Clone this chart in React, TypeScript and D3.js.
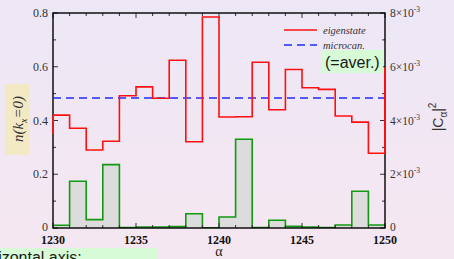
import * as d3 from 'd3'

// eigenstate occupation per bin, alpha = 1229 .. 1250 (first and last bins fall outside the frame)
const redStart = 1229
const redValues = [0.35, 0.42, 0.371, 0.29, 0.323, 0.492, 0.525, 0.483, 0.624, 0.321, 0.785, 0.413, 0.414, 0.617, 0.44, 0.59, 0.522, 0.516, 0.417, 0.394, 0.278, 0.595]
// |C_alpha|^2 in units of 1e-3, alpha = 1230 .. 1249
const greenStart = 1230
const greenValues = [0.1, 1.74, 0.31, 2.36, 0.02, 0.04, 0.04, 0.05, 0.53, 0.01, 0.41, 3.3, 0.02, 0.29, 0.06, 0.04, 0.02, 0.11, 1.37, 0.11]
const microcan = 0.484

const xTicks = [1230, 1235, 1240, 1245, 1250]
const leftTicks = [0, 0.2, 0.4, 0.6, 0.8]
const leftTickLabels = ['0', '0.2', '0.4', '0.6', '0.8']
const rightTicks = [0, 2, 4, 6, 8]

const W = 454
const H = 259
const x0 = 53, x1 = 385, yTop = 13, yBot = 228

const serif = '"Liberation Serif", "DejaVu Serif", serif'
const sans = '"Liberation Sans", Arial, sans-serif'

type Pt = { a: number; v: number }

function steps(start: number, vals: number[]): Pt[] {
  const pts = vals.map((v, i) => ({ a: start + i, v }))
  pts.push({ a: start + vals.length, v: vals[vals.length - 1] })
  return pts
}

export default function App() {
  const x = d3.scaleLinear().domain([1230, 1250]).range([x0, x1])
  const yL = d3.scaleLinear().domain([0, 0.8]).range([yBot, yTop])
  const yR = d3.scaleLinear().domain([0, 8]).range([yBot, yTop])

  const redPts = steps(redStart, redValues)
  const greenPts = steps(greenStart, greenValues)

  const redLine = d3.line<Pt>().x(d => x(d.a)).y(d => yL(d.v)).curve(d3.curveStepAfter)
  const greenLine = d3.line<Pt>().x(d => x(d.a)).y(d => yR(d.v)).curve(d3.curveStepAfter)
  const greenArea = d3.area<Pt>().x(d => x(d.a)).y0(yR(0)).y1(d => yR(d.v)).curve(d3.curveStepAfter)

  const minorX = d3.range(1230, 1251)
  const minorL = d3.range(0, 0.81, 0.1)

  return (
    <svg width={W} height={H} style={{ position: 'absolute', left: 0, top: 0 }}>
      <defs>
        <linearGradient id="bg" x1="0" y1="0" x2="0" y2="1">
          <stop offset="0%" stopColor="#ede7f6" />
          <stop offset="100%" stopColor="#f5e7f1" />
        </linearGradient>
        <clipPath id="plot">
          <rect x={x0} y={yTop} width={x1 - x0} height={yBot - yTop} />
        </clipPath>
      </defs>
      <rect width={W} height={H} fill="url(#bg)" />

      {/* green bars with gray fill */}
      <g clipPath="url(#plot)">
        <path d={greenArea(greenPts) ?? ''} fill="#dcdcdc" />
        <path d={greenLine(greenPts) ?? ''} fill="none" stroke="#119911" strokeWidth={1.6} />
      </g>

      {/* ticks */}
      <g stroke="#333" strokeWidth={1}>
        {minorX.map(a => {
          const len = a % 5 === 0 ? 5 : 3
          return (
            <g key={a}>
              <line x1={x(a)} x2={x(a)} y1={yBot} y2={yBot - len} />
              <line x1={x(a)} x2={x(a)} y1={yTop} y2={yTop + len} />
            </g>
          )
        })}
        {minorL.map((v, i) => {
          const len = i % 2 === 0 ? 5 : 3
          return (
            <g key={i}>
              <line x1={x0} x2={x0 + len} y1={yL(v)} y2={yL(v)} />
              <line x1={x1} x2={x1 - len} y1={yL(v)} y2={yL(v)} />
            </g>
          )
        })}
      </g>

      {/* frame */}
      <rect x={x0} y={yTop} width={x1 - x0} height={yBot - yTop} fill="none" stroke="#000" strokeWidth={1.4} />

      {/* red + blue on top of frame */}
      <path d={`M${x0},${yL(microcan)}H${x1}`} stroke="#1f2bff" strokeWidth={1.6} strokeDasharray="8,5" fill="none" />
      <g clipPath="url(#plot)">
        <path d={redLine(redPts) ?? ''} fill="none" stroke="#ff1010" strokeWidth={1.6} />
      </g>
      {/* edge segments of the red curve running along the frame */}
      <line x1={x0} x2={x0} y1={yL(redValues[0])} y2={yL(redValues[1])} stroke="#ff1010" strokeWidth={1.6} />
      <line x1={x1} x2={x1} y1={yL(redValues[redValues.length - 2])} y2={yL(redValues[redValues.length - 1])} stroke="#ff1010" strokeWidth={1.6} />

      {/* left tick labels */}
      {leftTicks.map((v, i) => (
        <text key={v} x={48} y={yL(v) + (v === 0 ? 2.5 : 4)} textAnchor="end" fontFamily={serif} fontSize={12} fill="#333">
          {leftTickLabels[i]}
        </text>
      ))}
      {/* right tick labels */}
      {rightTicks.map(v => (
        <text key={v} x={390} y={yR(v) + (v === 0 ? 2.5 : 4)} fontFamily={serif} fontSize={11.5} fill="#333">
          {v === 0 ? '0' : (
            <>
              {`${v}×10`}
              <tspan dy={-5} fontSize={7.5}>-3</tspan>
            </>
          )}
        </text>
      ))}
      {/* bottom tick labels */}
      {xTicks.map(a => (
        <text key={a} x={x(a)} y={244} textAnchor="middle" fontFamily={serif} fontSize={12} fontWeight="bold" fill="#111">
          {a}
        </text>
      ))}
      <text x={219} y={256} textAnchor="middle" fontFamily={serif} fontSize={14} fill="#222">α</text>

      {/* left axis title */}
      <rect x={5} y={84} width={24} height={71} fill="#f3e9c4" />
      <text transform="translate(23,119) rotate(-90)" textAnchor="middle" fontFamily={serif} fontSize={15} fontStyle="italic" fill="#333">
        n(k<tspan dy={3.5} fontSize={10}>x</tspan><tspan dy={-3.5}>=0)</tspan>
      </text>

      {/* right axis title */}
      <text transform="translate(443,117) rotate(-90)" textAnchor="middle" fontFamily={sans} fontSize={14} fill="#333">
        |C<tspan dy={4} fontSize={10}>α</tspan><tspan dy={-4}>|</tspan><tspan dy={-7} fontSize={10}>2</tspan>
      </text>

      {/* legend */}
      <line x1={284} x2={317} y1={30} y2={30} stroke="#ff1010" strokeWidth={1.6} />
      <text x={323} y={33.5} fontFamily={serif} fontSize={10.5} fontStyle="italic" fill="#333">eigenstate</text>
      <line x1={284} x2={317} y1={45} y2={45} stroke="#1f2bff" strokeWidth={1.6} strokeDasharray="8,5" />
      <text x={323} y={48.5} fontFamily={serif} fontSize={10.5} fontStyle="italic" fill="#333">microcan.</text>
      <rect x={322} y={50} width={61} height={23} fill="#d6fbd6" />
      <text x={325} y={68} fontFamily={sans} fontSize={16} fill="#1a1a1a">(=aver.)</text>

      {/* bottom-left note, cut off by the window */}
      <rect x={0} y={248} width={158} height={11} fill="#d6fbd6" />
      <text x={-25} y={263} fontFamily={sans} fontSize={16} fill="#1a1a1a">horizontal axis:</text>
    </svg>
  )
}
